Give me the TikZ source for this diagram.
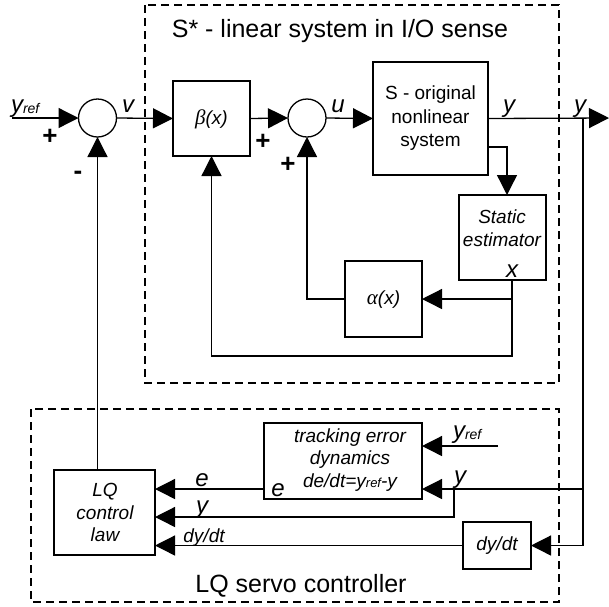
\documentclass[tikz,border=0pt]{standalone}
\usepackage{fontspec}
\setmainfont{Liberation Sans}
\newfontfamily\grkfont{Liberation Serif}
\usetikzlibrary{arrows.meta,calc}
\begin{document}
\begin{tikzpicture}[x=1pt,y=-1pt,
  line width=1.3pt,
  every node/.style={inner sep=0pt, outer sep=0pt},
  box/.style={draw, rectangle, line width=1.3pt},
  sumc/.style={draw, circle, minimum size=38pt, line width=1.3pt},
  arr/.style={-{Triangle[length=20pt,width=20pt]}},
  frame/.style={draw, dash pattern=on 8pt off 5pt, line width=1.2pt},
  lbl/.style={font=\fontsize{24}{24}\selectfont\itshape},
  sgn/.style={font=\fontsize{26}{26}\selectfont\bfseries},
  ttl/.style={font=\fontsize{25}{25}\selectfont},
  txt/.style={font=\fontsize{19}{23.5}\selectfont, align=center},
  itxt/.style={font=\fontsize{19}{22.5}\selectfont\itshape, align=center},
]
\useasboundingbox (0,0) rectangle (609,606);

% frames
\draw[frame] (145,5) rectangle (559,383);
\draw[frame] (31,409) rectangle (559,602);
\node[ttl, anchor=base] (title) at (340,37) {S* - linear system in I/O sense};
\node[ttl, anchor=base] (title2) at (301,592) {LQ servo controller};

% summing junctions
\node[sumc] (sum1) at (97.5,118) {};
\node[sumc] (sum2) at (307,118) {};

% boxes
\node[box, minimum width=77pt, minimum height=75pt] (beta) at (211.5,118.5) {};
\node[box, minimum width=115pt, minimum height=113pt] (S) at (430.5,118.5) {};
\node[box, minimum width=87pt, minimum height=85pt] (est) at (502.5,237.5) {};
\node[box, minimum width=77pt, minimum height=76pt] (alpha) at (383.5,299) {};
\node[box, minimum width=101pt, minimum height=85pt] (LQ) at (104.5,512.5) {};
\node[box, minimum width=158pt, minimum height=76pt] (track) at (343,461) {};
\node[box, minimum width=68pt, minimum height=47pt] (dydt) at (497,545.5) {};

% box texts
\node[itxt] (betat) at (211.5,119) {{\grkfont\fontsize{21}{21}\selectfont β}(x)};
\node[itxt] (alphat) at (383.5,300) {{\grkfont\fontsize{21}{21}\selectfont α}(x)};
\node[txt] (St) at (430.5,118.5) {S - original\\nonlinear\\system};
\node[itxt] (estt) at (502,228) {Static\\estimator};
\node[lbl] (estx) at (512,271.5) {x};
\node[itxt] (LQt) at (105,512.5) {LQ\\control\\law};
\node[itxt] (trackt) at (350,460) {tracking error\\dynamics\\de/dt=y{\fontsize{13}{13}\selectfont ref}-y};
\node[itxt] (dydtt) at (497,546) {dy/dt};

% coordinates
\coordinate (yin) at (12,118);
\coordinate (yend) at (609,118);
\coordinate (yb) at (583,118);
\coordinate (xs) at (512,280);
\coordinate (xb) at (512,356);
\coordinate (ty) at (583,489);
\coordinate (tyb) at (454,489);
\coordinate (lqy) at (0,517);
\coordinate (ey) at (0,489);
\coordinate (yr2) at (498,446);

% upper connectors
\draw[arr] (yin) -- (sum1.west);
\draw[arr] (sum1.east) -- (beta.west);
\draw[arr] (beta.east) -- (sum2.west);
\draw[arr] (sum2.east) -- (S.west);
\draw[arr] (S.east) -- (yend);
\draw[arr] ([yshift=-28.5pt]S.east) -| ([xshift=4.5pt]est.north);
\draw[arr] (xs) |- (alpha.east);
\draw[arr] (xs) -- (xb) -| (beta.south);
\draw[arr] (alpha.west) -| (sum2.south);

% lower connectors
\draw[arr] (yb) |- (dydt.east);
\draw[arr] (ty) -- (track.east |- ty);
\draw[arr] (tyb) |- (LQ.east |- lqy);
\draw[arr] (track.west |- ey) -- (LQ.east |- ey);
\draw[arr] (dydt.west) -- (LQ.east |- dydt.west);
\draw[arr] (yr2) -- (track.east |- yr2);
\draw[arr] (sum1.south |- LQ.north) -- (sum1.south);

% labels
\node[lbl, anchor=base west] (lyref) at (11,112) {y\raisebox{-1pt}{\fontsize{14}{14}\selectfont ref}};
\node[sgn] (p1) at (50,137) {+};
\node[sgn] (m1) at (78,175) {-};
\node[lbl, anchor=base] (lv) at (128,112) {v};
\node[sgn] (p2) at (263,142) {+};
\node[sgn] (p3) at (288,165) {+};
\node[lbl, anchor=base] (lu) at (338,112) {u};
\node[lbl, anchor=base] (ly1) at (509,112) {y};
\node[lbl, anchor=base] (ly2) at (580,112) {y};
\node[lbl, anchor=base] (le1) at (202,486) {e};
\node[lbl, anchor=base] (le2) at (278,496) {e};
\node[lbl, anchor=base] (ly3) at (202,513) {y};
\node[itxt, anchor=base] (ldy) at (204,542) {dy/dt};
\node[lbl, anchor=base west] (lyref2) at (453,438) {y\raisebox{-1pt}{\fontsize{14}{14}\selectfont ref}};
\node[lbl, anchor=base] (ly4) at (460,483) {y};
\end{tikzpicture}
\end{document}
